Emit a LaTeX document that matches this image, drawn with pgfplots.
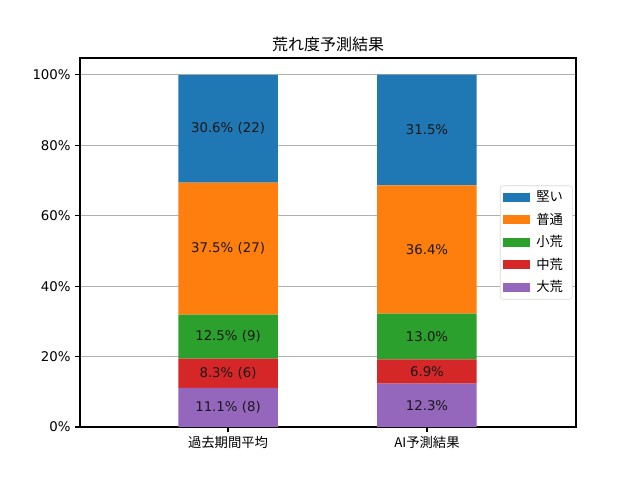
\documentclass[border=0pt]{standalone}
\usepackage{pgfplots}
\pgfplotsset{compat=1.18}
\usepackage{fontspec}
\setmainfont{DejaVu Sans}
\newfontfamily\cjk{Noto Sans CJK JP}
\definecolor{c0}{HTML}{1F77B4}
\definecolor{c1}{HTML}{FF7F0E}
\definecolor{c2}{HTML}{2CA02C}
\definecolor{c3}{HTML}{D62728}
\definecolor{c4}{HTML}{9467BD}
\begin{document}
\begin{tikzpicture}
\pgfplotsset{
  common/.style={
    scale only axis,
    width=372pt, height=276.75pt,
    xmin=-0.744, xmax=1.749,
    ymin=0, ymax=104.8,
    at={(0,0)}, anchor=south west,
  }
}
\begin{axis}[
  common,
  ybar stacked,
  bar width=0.5,
  xtick={0,1},
  xticklabels={{\cjk 過去期間平均},{\cjk AI予測結果}},
  ytick={0,20,40,60,80,100},
  yticklabels={0\%,20\%,40\%,60\%,80\%,100\%},
  tick align=outside,
  xtick pos=bottom, ytick pos=left,
  major tick length=3.5pt,
  tick style={black, line width=0.8pt},
  axis line style={line width=0.8pt},
  ymajorgrids,
  grid style={color=black!31, line width=0.8pt},
  title={\cjk 荒れ度予測結果},
  title style={font=\fontsize{12}{14}\selectfont, yshift=-5pt},
  tick label style={font=\fontsize{10}{12}\selectfont},
  legend style={at={(0.993,0.5)}, anchor=east, draw=black!15, rounded corners=2pt,
    font=\fontsize{10}{12}\selectfont\cjk, row sep=3pt, inner sep=2pt,
    nodes={inner xsep=5pt}},
  legend cell align=left,
  legend reversed,
  area legend,
  legend image code/.code={\fill[#1, sharp corners] (0pt,-3.5pt) rectangle (20pt,3.5pt);},
]
\addplot[fill=c4, draw=none] coordinates {(0,11.1) (1,12.3)};
\addlegendentry{大荒}
\addplot[fill=c3, draw=none] coordinates {(0,8.3) (1,6.9)};
\addlegendentry{中荒}
\addplot[fill=c2, draw=none] coordinates {(0,12.5) (1,13.0)};
\addlegendentry{小荒}
\addplot[fill=c1, draw=none] coordinates {(0,37.5) (1,36.4)};
\addlegendentry{普通}
\addplot[fill=c0, draw=none] coordinates {(0,30.6) (1,31.5)};
\addlegendentry{堅い}
\end{axis}
\begin{axis}[
  common,
  hide axis,
]
\addplot[only marks, mark=none, point meta=explicit symbolic,
  nodes near coords, nodes near coords align={center},
  every node near coord/.style={anchor=center, font=\fontsize{10}{12}\selectfont, text=black!90}]
coordinates {
  (0,5.55) [11.1\% (8)]
  (0,15.25) [8.3\% (6)]
  (0,25.65) [12.5\% (9)]
  (0,50.65) [37.5\% (27)]
  (0,84.7) [30.6\% (22)]
  (1,6.15) [12.3\%]
  (1,15.75) [6.9\%]
  (1,25.7) [13.0\%]
  (1,50.4) [36.4\%]
  (1,84.35) [31.5\%]
};
\end{axis}
\path[use as bounding box] (-60pt,-39.75pt) rectangle (420pt,320.25pt);
\end{tikzpicture}
\end{document}
